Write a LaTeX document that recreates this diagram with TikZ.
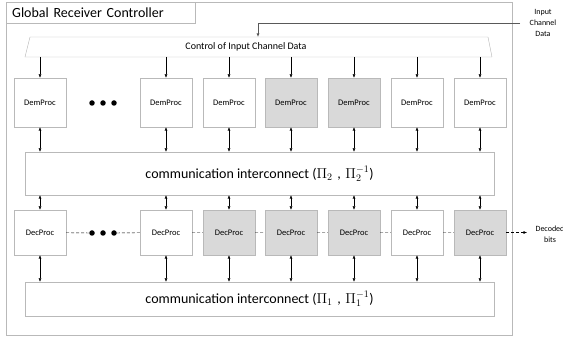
\documentclass[tikz,border=0pt]{standalone}
\usepackage{fontspec}
\setmainfont{Carlito}
\usetikzlibrary{arrows.meta}
\definecolor{frame-color}{RGB}{185,185,185}
\definecolor{busy-color}{RGB}{217,217,217}
\definecolor{input-color}{RGB}{89,89,89}

\begin{document}
\begin{tikzpicture}[
    x=1pt, y=-1pt,
    >={Latex[length=3.5pt,width=3pt]},
    proc/.style={rectangle,draw=frame-color,fill=white,minimum width=52pt,font=\fontsize{8.5}{10}\selectfont},
    dem/.style={proc,minimum height=49pt},
    dec/.style={proc,minimum height=45pt},
    busy/.style={fill=busy-color},
    bus/.style={rectangle,draw=frame-color,minimum width=469pt,font=\fontsize{14}{16}\selectfont},
    ellip/.style={circle,fill=black,inner sep=0pt,minimum size=5.5pt},
    chain/.style={dash pattern=on 3pt off 2pt}
]
\useasboundingbox (0,0) rectangle (563,339);
\node[rectangle,draw=frame-color,minimum width=506pt,minimum height=333pt,anchor=north west] (frame) at (6,2) {};
\node[rectangle,draw=frame-color,fill=white,anchor=north west,text width=177pt,inner xsep=6pt,minimum height=21pt,font=\fontsize{14}{16}\selectfont] (title) at (6,2) {Global Receiver Controller};

% control of input data
\draw[frame-color] (30,37) -- (488,37) -- (492,57) -- (25,57) -- cycle;
\node[font=\fontsize{10}{12}\selectfont] (ctrl) at (246,47) {Control of Input Channel Data};
\coordinate (ctrltop) at (258,37);
\coordinate (ctrlbot) at (0,57);
\node[align=center,font=\fontsize{8}{11}\selectfont] (inlabel) at (543,23) {Input\\Channel\\Data};
\coordinate (inp) at (520,23);
\draw[input-color,thick,->] (inp) -| (ctrltop);

% demodulators
\node[dem] (dem1) at (40,102.5) {DemProc};
\node[dem] (dem2) at (166,102.5) {DemProc};
\node[dem] (dem3) at (229,102.5) {DemProc};
\node[dem,busy] (dem4) at (291,102.5) {DemProc};
\node[dem,busy] (dem5) at (354,102.5) {DemProc};
\node[dem] (dem6) at (417,102.5) {DemProc};
\node[dem] (dem7) at (480,102.5) {DemProc};
\node[ellip] (demdot1) at (92,103) {};
\node[ellip] (demdot2) at (103,103) {};
\node[ellip] (demdot3) at (114,103) {};

\node[bus,minimum height=43pt] (comm2) at (259.5,173.5) {communication interconnect ($\Pi_2$\,\,,\,\,$\Pi_2^{-1}$)};

% decoders
\node[dec] (dec1) at (40,232.5) {DecProc};
\node[dec] (dec2) at (166,232.5) {DecProc};
\node[dec,busy] (dec3) at (229,232.5) {DecProc};
\node[dec,busy] (dec4) at (291,232.5) {DecProc};
\node[dec,busy] (dec5) at (354,232.5) {DecProc};
\node[dec] (dec6) at (417,232.5) {DecProc};
\node[dec,busy] (dec7) at (480,232.5) {DecProc};
\node[ellip] (decdot1) at (92,233) {};
\node[ellip] (decdot2) at (103,233) {};
\node[ellip] (decdot3) at (114,233) {};

\node[bus,minimum height=34pt] (comm1) at (259.5,299) {communication interconnect ($\Pi_1$\,\,,\,\,$\Pi_1^{-1}$)};

\node[align=center,font=\fontsize{8}{11}\selectfont] (outbits) at (550,234) {Decoded\\bits};
\coordinate (outp) at (527,232.5);

\foreach \i in {1,...,7} {
    \draw[->] (dem\i.north |- ctrlbot) -- (dem\i.north);
    \draw[<->] (dem\i) -- (dem\i |- comm2.north);
    \draw[<->] (dec\i |- comm2.south) -- (dec\i);
    \draw[<->] (dec\i) -- (dec\i |- comm1.north);
}
\draw[chain] (dec1) -- (decdot1) (decdot3) -- (dec2) (dec2) -- (dec3) (dec3) -- (dec4)
    (dec4) -- (dec5) (dec5) -- (dec6) (dec6) -- (dec7);
\draw[chain,->] (dec7) -- (outp);
\end{tikzpicture}
\end{document}
